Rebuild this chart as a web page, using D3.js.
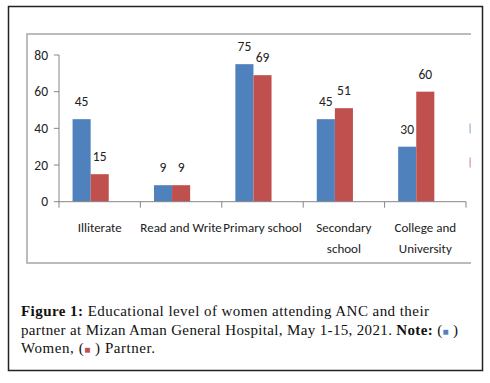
<!DOCTYPE html>
<html>
<head>
<meta charset="utf-8">
<script src="https://cdn.jsdelivr.net/npm/d3@7"></script>
<style>
  body { margin: 0; background: #fff; }
  svg { display: block; }
  .cat, .val, .ytick { font-family: Carlito, "Liberation Sans Narrow", "DejaVu Sans Condensed", Arial, sans-serif; }
  .cap { font-family: "Liberation Serif", "Times New Roman", serif; }
</style>
</head>
<body>
<div id="chart"></div>
<script>
const categories = ["Illiterate", "Read and Write", "Primary school", "Secondary school", "College and University"];
const catLines = [["Illiterate"], ["Read and Write"], ["Primary school"], ["Secondary", "school"], ["College and", "University"]];
const women = [45, 9, 75, 45, 30];
const partner = [15, 9, 69, 51, 60];
const seriesKeys = ["Women", "Partner", "Series3"];
const colors = { Women: "#4F81BD", Partner: "#C0504D" };
const yTicks = [0, 20, 40, 60, 80];

const width = 490;
const height = 383;

const svg = d3.select("#chart")
  .append("svg")
  .attr("width", width)
  .attr("height", height);

// outer frame
svg.append("rect")
  .attr("x", 8.5).attr("y", 6.5)
  .attr("width", 474).attr("height", 364)
  .attr("fill", "none")
  .attr("stroke", "#222")
  .attr("stroke-width", 1.5);

// inner chart box (top, left, bottom)
const box = { left: 27, top: 34, right: 471, bottom: 263 };
svg.append("path")
  .attr("d", `M${box.right},${box.top}H${box.left}V${box.bottom}H${box.right}`)
  .attr("fill", "none")
  .attr("stroke", "#a6a6a6")
  .attr("stroke-width", 1.5);

const x = d3.scaleBand().domain(categories).range([59, 466]);
const x1 = d3.scaleBand().domain(seriesKeys).range([0, x.bandwidth()]).paddingOuter(0.75);
const y = d3.scaleLinear().domain([0, 80]).range([201.7, 55]);

const data = categories.map((c, i) => ({ cat: c, lines: catLines[i], Women: women[i], Partner: partner[i] }));

// y axis
const yAxis = svg.append("g");
yAxis.append("line")
  .attr("x1", x.range()[0]).attr("x2", x.range()[0])
  .attr("y1", y(0)).attr("y2", y(80))
  .attr("stroke", "#868686");
yAxis.selectAll(".tk").data(yTicks).join("line")
  .attr("x1", x.range()[0] - 5).attr("x2", x.range()[0])
  .attr("y1", d => y(d)).attr("y2", d => y(d))
  .attr("stroke", "#868686");
yAxis.selectAll(".ytick").data(yTicks).join("text")
  .attr("class", "ytick")
  .attr("x", x.range()[0] - 11)
  .attr("y", d => y(d))
  .attr("dy", "0.35em")
  .attr("text-anchor", "end")
  .attr("font-size", 13.5)
  .attr("fill", "#222")
  .text(d => d);

// bars
const groups = svg.selectAll(".grp").data(data).join("g")
  .attr("transform", d => `translate(${x(d.cat)},0)`);

groups.selectAll("rect")
  .data(d => ["Women", "Partner"].map(k => ({ key: k, value: d[k] })))
  .join("rect")
  .attr("x", d => x1(d.key))
  .attr("y", d => y(d.value))
  .attr("width", x1.bandwidth())
  .attr("height", d => y(0) - y(d.value))
  .attr("fill", d => colors[d.key]);

groups.selectAll(".val")
  .data(d => ["Women", "Partner"].map(k => ({ key: k, value: d[k] })))
  .join("text")
  .attr("class", "val")
  .attr("x", d => x1(d.key) + x1.bandwidth() / 2)
  .attr("y", d => y(d.value) - 13)
  .attr("text-anchor", "middle")
  .attr("font-size", 13.5)
  .attr("fill", "#222")
  .text(d => d.value);

// x axis
const xAxis = svg.append("g");
xAxis.append("line")
  .attr("x1", x.range()[0]).attr("x2", x.range()[1])
  .attr("y1", y(0)).attr("y2", y(0))
  .attr("stroke", "#868686");
xAxis.selectAll(".tk").data(categories.concat([null])).join("line")
  .attr("x1", (d, i) => x.range()[0] + i * x.step())
  .attr("x2", (d, i) => x.range()[0] + i * x.step())
  .attr("y1", y(0)).attr("y2", y(0) + 6)
  .attr("stroke", "#868686");

const catText = xAxis.selectAll(".cat").data(data).join("text")
  .attr("class", "cat")
  .attr("text-anchor", "middle")
  .attr("font-size", 13)
  .attr("fill", "#222");
catText.selectAll("tspan").data(d => d.lines.map(l => ({ l, cat: d.cat }))).join("tspan")
  .attr("x", d => x(d.cat) + x.bandwidth() / 2)
  .attr("y", (d, i) => y(0) + 30.5 + i * 20.5)
  .text(d => d.l);

// legend marks, almost entirely cut off at the right edge
svg.append("g").selectAll("rect").data(["Women", "Partner"]).join("rect")
  .attr("x", 469.5)
  .attr("y", (d, i) => 123.5 + i * 34)
  .attr("width", 1.2).attr("height", 10)
  .attr("fill", d => colors[d])
  .attr("opacity", 0.6);

// caption
const capLines = [
  { len: 408, segs: [["Figure 1:", true], [" Educational level of women attending ANC and their", false]] },
  { len: 437, segs: [["partner at Mizan Aman General Hospital, May 1-15, 2021. ", false], ["Note:", true], [" (", false], ["■", "W"], [" )", false]] },
  { len: 134, segs: [["Women, (", false], ["■", "P"], [" ) Partner.", false]] }
];
capLines.forEach((line, li) => {
  const t = svg.append("text")
    .attr("class", "cap")
    .attr("x", 21).attr("y", 316 + li * 18.5)
    .attr("font-size", 15)
    .attr("fill", "#111")
    .attr("textLength", line.len)
    .attr("lengthAdjust", "spacing");
  line.segs.forEach(seg => {
    const s = t.append("tspan").text(seg[0]);
    if (seg[1] === true) s.attr("font-weight", "bold");
    if (seg[1] === "W") s.attr("fill", colors.Women).attr("font-size", 10);
    if (seg[1] === "P") s.attr("fill", colors.Partner).attr("font-size", 10);
  });
});
</script>
</body>
</html>
